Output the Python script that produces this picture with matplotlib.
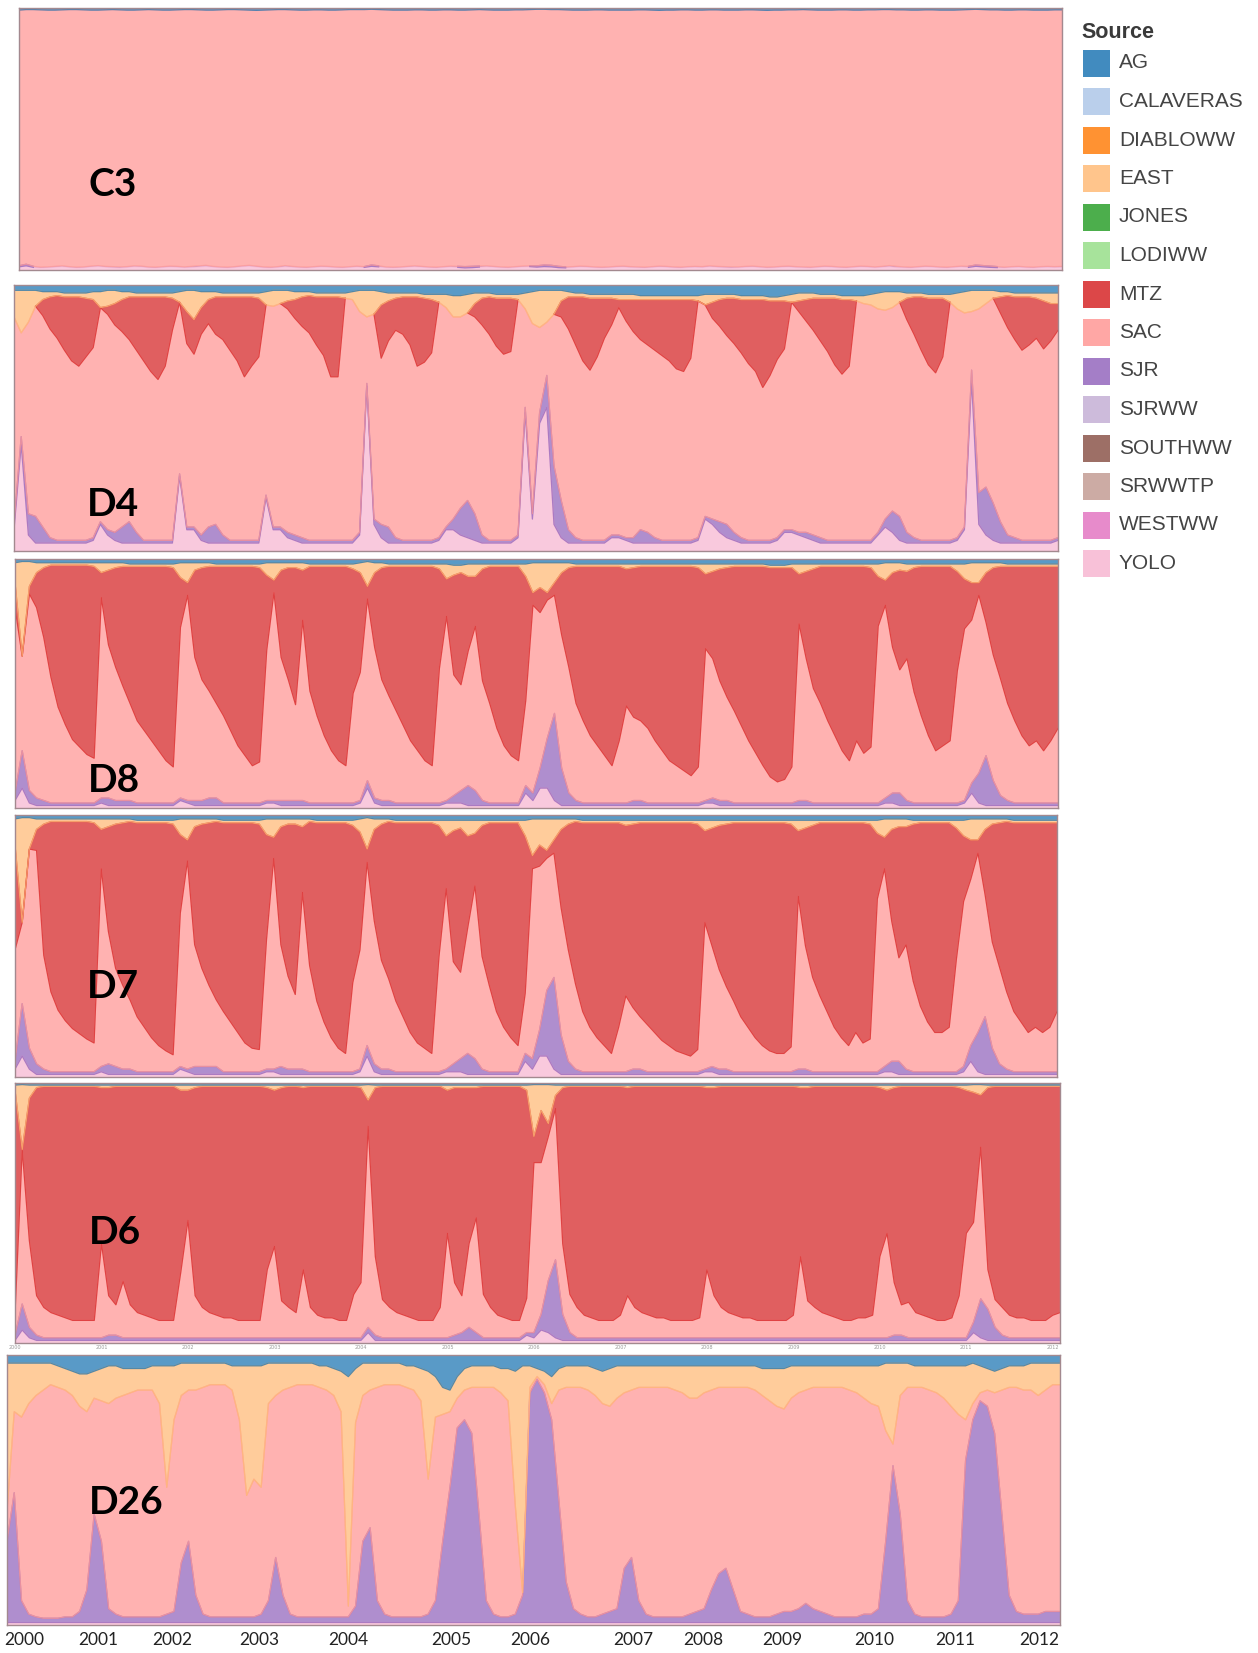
import numpy as np
import pandas as pd
import matplotlib
matplotlib.use("Agg")
import matplotlib.pyplot as plt
from matplotlib.patches import Rectangle

# ---------------------------------------------------------------- sources
SOURCES = ["AG", "CALAVERAS", "DIABLOWW", "EAST", "JONES", "LODIWW", "MTZ",
           "SAC", "SJR", "SJRWW", "SOUTHWW", "SRWWTP", "WESTWW", "YOLO"]
SOURCE_COLORS = ["#1f77b4", "#aec7e8", "#ff7f0e", "#ffbb78", "#2ca02c", "#98df8a",
                 "#d62728", "#ff9896", "#9467bd", "#c5b0d5", "#8c564b", "#c49c94",
                 "#e377c2", "#f7b6d2"]
COLOR = dict(zip(SOURCES, SOURCE_COLORS))

# monthly time axis, Jan 2000 .. Feb 2012
MONTHS = pd.date_range("2000-01-01", "2012-02-01", freq="MS")
T = MONTHS.year + (MONTHS.month - 1) / 12.0

STATIONS = ["C3", "D4", "D8", "D7", "D6", "D26"]
YEAR_LABELS = [str(y) for y in range(2000, 2013)]

# ---------------------------------------------------------------- percent of volume by source (monthly)
C3_AG = [
    [0.8, 0.6, 0.6, 0.7, 0.8, 0.8, 0.7, 0.6, 0.6, 0.7, 0.8, 0.8],
    [0.7, 0.6, 0.7, 0.8, 0.8, 0.7, 0.6, 0.7, 0.8, 0.8, 0.7, 0.6],
    [0.6, 0.7, 0.8, 0.8, 0.7, 0.6, 0.6, 0.7, 0.8, 0.9, 0.8, 0.7],
    [0.6, 0.6, 0.7, 0.8, 0.8, 0.7, 0.7, 0.8, 0.8, 0.7, 0.6, 0.6],
    [0.6, 0.5, 0.6, 0.7, 0.8, 0.8, 0.8, 0.7, 0.7, 0.8, 0.8, 0.7],
    [0.7, 0.8, 0.8, 0.7, 0.6, 0.7, 0.8, 0.8, 0.8, 0.7, 0.7, 0.6],
    [0.5, 0.5, 0.6, 0.6, 0.7, 0.8, 0.8, 0.8, 0.7, 0.7, 0.8, 0.8],
    [0.8, 0.8, 0.7, 0.7, 0.8, 0.9, 0.8, 0.8, 0.7, 0.7, 0.8, 0.8],
    [0.7, 0.7, 0.8, 0.8, 0.8, 0.7, 0.7, 0.8, 0.9, 0.8, 0.8, 0.7],
    [0.7, 0.6, 0.7, 0.8, 0.8, 0.8, 0.7, 0.7, 0.8, 0.8, 0.7, 0.7],
    [0.6, 0.6, 0.7, 0.7, 0.8, 0.8, 0.7, 0.7, 0.8, 0.8, 0.8, 0.7],
    [0.6, 0.5, 0.6, 0.7, 0.7, 0.8, 0.8, 0.7, 0.7, 0.8, 0.8, 0.8],
    [0.7, 0.7],
]
C3_SJR = [
    [0.4, 0.6, 0.4, 0.3, 0.3, 0.3, 0.3, 0.3, 0.3, 0.3, 0.3, 0.3],
    [0.3, 0.4, 0.4, 0.3, 0.3, 0.3, 0.3, 0.3, 0.3, 0.3, 0.3, 0.3],
    [0.4, 0.4, 0.4, 0.3, 0.3, 0.3, 0.3, 0.3, 0.3, 0.3, 0.3, 0.3],
    [0.3, 0.4, 0.3, 0.3, 0.3, 0.3, 0.3, 0.3, 0.3, 0.3, 0.3, 0.3],
    [0.3, 0.5, 0.4, 0.3, 0.3, 0.3, 0.3, 0.3, 0.3, 0.3, 0.3, 0.3],
    [0.3, 0.4, 0.5, 0.5, 0.4, 0.3, 0.3, 0.3, 0.3, 0.3, 0.3, 0.3],
    [0.5, 0.6, 0.6, 0.5, 0.4, 0.3, 0.3, 0.3, 0.3, 0.3, 0.3, 0.3],
    [0.3, 0.3, 0.3, 0.3, 0.3, 0.3, 0.3, 0.3, 0.3, 0.3, 0.3, 0.3],
    [0.3, 0.3, 0.4, 0.4, 0.3, 0.3, 0.3, 0.3, 0.3, 0.3, 0.3, 0.3],
    [0.3, 0.3, 0.3, 0.3, 0.3, 0.3, 0.3, 0.3, 0.3, 0.3, 0.3, 0.3],
    [0.3, 0.4, 0.4, 0.3, 0.3, 0.3, 0.3, 0.3, 0.3, 0.3, 0.3, 0.3],
    [0.4, 0.5, 0.5, 0.5, 0.4, 0.3, 0.3, 0.3, 0.3, 0.3, 0.3, 0.3],
    [0.3, 0.3],
]
C3_YOLO = [
    [1.2, 1.6, 1.0, 0.8, 0.9, 1.1, 1.3, 1.0, 0.8, 0.9, 1.2, 1.4],
    [1.1, 0.9, 0.8, 1.0, 1.3, 1.2, 0.9, 0.8, 1.0, 1.2, 1.1, 0.9],
    [1.0, 1.2, 1.4, 1.1, 0.9, 0.8, 1.0, 1.3, 1.5, 1.2, 0.9, 0.8],
    [1.0, 1.3, 1.1, 0.9, 0.8, 1.0, 1.2, 1.1, 0.9, 0.8, 1.0, 1.2],
    [1.0, 1.4, 1.2, 0.9, 0.8, 0.9, 1.1, 1.3, 1.1, 0.9, 0.8, 1.0],
    [1.2, 1.0, 0.8, 0.9, 1.1, 1.3, 1.1, 0.9, 0.8, 1.0, 1.2, 1.3],
    [1.1, 1.3, 1.2, 0.9, 0.8, 1.0, 1.2, 1.1, 0.9, 0.8, 0.9, 1.1],
    [1.2, 1.0, 0.9, 0.8, 1.0, 1.2, 1.1, 0.9, 0.8, 1.0, 1.1, 1.0],
    [1.3, 1.1, 0.9, 0.8, 0.9, 1.1, 1.2, 1.0, 0.8, 0.9, 1.1, 1.2],
    [1.0, 0.9, 0.8, 1.0, 1.2, 1.1, 0.9, 0.8, 1.0, 1.2, 1.1, 0.9],
    [1.1, 1.3, 1.0, 0.9, 0.8, 1.0, 1.2, 1.1, 0.9, 0.8, 1.0, 1.2],
    [1.0, 1.4, 1.2, 1.0, 0.9, 0.8, 1.0, 1.1, 0.9, 0.8, 1.0, 1.1],
    [1.0, 1.1],
]

D4_AG = [
    [2, 2, 2, 2, 2.5, 2.5, 2.5, 3, 3, 3, 3, 2.5],
    [2.5, 2, 2, 2.5, 2.5, 3, 3, 3, 3, 3, 3, 2.5],
    [2, 2, 2.5, 2.5, 2.5, 3, 3, 3, 3, 3, 3, 2.5],
    [2, 2, 2, 2.5, 2.5, 2.5, 3, 3, 3, 3, 3, 2.5],
    [2, 2, 2, 2.5, 3, 3, 3, 3, 3, 3.5, 3.5, 3.5],
    [3.5, 4, 4, 3.5, 3, 3, 3, 3.5, 3.5, 3.5, 3.5, 3],
    [2.5, 2, 2, 2, 2, 2.5, 3, 3, 3.5, 3.5, 3.5, 3.5],
    [3.5, 3.5, 3.5, 4, 4, 4, 4, 4, 4, 4, 4, 4],
    [3.5, 3.5, 3.5, 3.5, 3.5, 4, 4, 4, 4, 4.5, 4.5, 4],
    [3.5, 3, 3, 3, 3.5, 3.5, 3.5, 4, 4, 4, 4, 3.5],
    [3, 2.5, 2.5, 2.5, 3, 3, 3, 3.5, 3.5, 3.5, 3.5, 3],
    [2.5, 2, 2, 2, 2, 2.5, 2.5, 3, 3, 3, 3, 3],
    [3, 3],
]
D4_EAST = [
    [10, 16, 12, 6, 3, 2, 1.5, 1.5, 1.5, 1.5, 2, 3],
    [6, 6, 5, 3, 2, 1.5, 1.5, 1.5, 1.5, 1.5, 2, 4],
    [8, 11, 6, 3, 2, 1.5, 1.5, 1.5, 1.5, 1.5, 2, 5],
    [6, 5, 4, 3, 2, 1.5, 1.5, 1.5, 1.5, 1.5, 2, 3],
    [8, 10, 9, 5, 3, 2, 1.5, 1.5, 1.5, 1.5, 2, 3],
    [5, 8, 8, 7, 4, 2, 1.5, 1.5, 1.5, 1.5, 2, 6],
    [12, 14, 12, 9, 4, 2, 1.5, 1.5, 1.5, 1.5, 1.5, 1.5],
    [2, 2, 2, 1.5, 1.5, 1.5, 1.5, 1.5, 1.5, 1.5, 1.5, 2],
    [4, 3, 2, 1.5, 1.5, 1.5, 1.5, 1.5, 1.5, 1.5, 1.5, 2],
    [3, 3, 2.5, 2, 1.5, 1.5, 1.5, 1.5, 1.5, 2, 3, 4],
    [6, 7, 6, 4, 2, 1.5, 1.5, 1.5, 1.5, 1.5, 3, 6],
    [8, 8, 7, 5, 3, 2, 1.5, 1.5, 1.5, 1.5, 2, 3],
    [4, 4],
]
D4_MTZ = [
    [0, 0, 0, 0, 6, 12, 16, 20, 24, 26, 22, 18],
    [0, 3, 8, 12, 16, 20, 24, 28, 31, 26, 12, 0],
    [12, 13, 10, 9, 14, 16, 20, 24, 30, 26, 22, 0],
    [0, 0, 3, 7, 11, 14, 18, 22, 30, 30, 0, 0],
    [0, 0, 0, 20, 15, 12, 14, 18, 26, 24, 20, 0],
    [0, 0, 0, 0, 5, 10, 14, 18, 21, 20, 0, 0],
    [0, 0, 0, 0, 6, 12, 18, 24, 27, 22, 15, 10],
    [3, 8, 12, 15, 17, 19, 21, 23, 26, 27, 22, 0],
    [0, 6, 10, 14, 17, 20, 24, 27, 33, 28, 22, 18],
    [0, 4, 8, 12, 16, 20, 25, 28, 25, 0, 0, 0],
    [0, 0, 0, 0, 8, 14, 20, 25, 28, 22, 0, 0],
    [0, 0, 0, 0, 0, 6, 12, 16, 20, 18, 15, 18],
    [14, 10],
]
D4_SJR = [
    [2, 3, 8, 10, 6, 2, 1, 1, 1, 1, 1, 1],
    [1, 2, 3, 6, 8, 4, 1, 1, 1, 1, 1, 1],
    [1, 1, 2, 6, 7, 3, 1, 1, 1, 1, 1, 1],
    [1, 1, 2, 2, 2, 1, 1, 1, 1, 1, 1, 1],
    [1, 1, 2, 5, 6, 2, 1, 1, 1, 1, 1, 1],
    [1, 4, 10, 14, 10, 3, 1, 1, 1, 1, 1, 2],
    [2, 4, 12, 22, 14, 5, 2, 1, 1, 1, 1, 1],
    [1, 1, 2, 5, 4, 2, 1, 1, 1, 1, 1, 1],
    [1, 2, 4, 5, 3, 2, 1, 1, 1, 1, 1, 1],
    [1, 1, 2, 2, 2, 1, 1, 1, 1, 1, 1, 1],
    [1, 3, 8, 9, 4, 2, 1, 1, 1, 1, 1, 1],
    [1, 4, 12, 18, 14, 8, 3, 2, 1, 1, 1, 1],
    [1, 1],
]
D4_YOLO = [
    [8, 40, 6, 3, 3, 3, 3, 3, 3, 3, 3, 4],
    [10, 6, 4, 3, 3, 3, 3, 3, 3, 3, 3, 28],
    [8, 8, 4, 3, 3, 3, 3, 3, 3, 3, 3, 20],
    [8, 8, 5, 4, 3, 3, 3, 3, 3, 3, 3, 3],
    [6, 62, 10, 5, 3, 3, 3, 3, 3, 3, 3, 4],
    [8, 8, 6, 5, 4, 3, 3, 3, 3, 3, 5, 52],
    [12, 48, 54, 10, 5, 3, 3, 3, 3, 3, 3, 5],
    [5, 4, 3, 3, 3, 3, 3, 3, 3, 3, 3, 4],
    [12, 10, 7, 5, 4, 3, 3, 3, 3, 3, 4, 7],
    [7, 6, 5, 4, 3, 3, 3, 3, 3, 3, 3, 3],
    [6, 9, 7, 4, 3, 3, 3, 3, 3, 3, 3, 4],
    [8, 64, 10, 6, 4, 3, 3, 3, 3, 3, 3, 3],
    [3, 4],
]

D8_AG = [
    [1.5, 1, 1, 1.5, 1.5, 1.5, 1.5, 1.5, 1.5, 1.5, 1.5, 1.5],
    [1.5, 1.5, 1.5, 1.5, 2, 2, 2, 2, 2, 2, 2, 1.5],
    [1.5, 1.5, 1.5, 1.5, 2, 2, 2, 2, 2, 2, 2, 1.5],
    [1.5, 1.5, 1.5, 1.5, 1.5, 2, 2, 2, 2, 2, 2, 2],
    [1.5, 1, 1.5, 1.5, 2, 2, 2, 2, 2, 2, 2, 2],
    [2, 2.5, 2.5, 2, 2, 2, 2, 2, 2, 2, 2, 2],
    [1.5, 1.5, 1.5, 1.5, 1.5, 1.5, 2, 2, 2, 2, 2, 2],
    [2, 2, 2, 2, 2, 2, 2, 2, 2, 2, 2, 2],
    [2, 2, 2, 2, 2, 2, 2, 2, 2, 2.5, 2.5, 2.5],
    [2, 2, 2, 2, 2, 2, 2, 2, 2, 2, 2, 2],
    [2, 1.5, 1.5, 1.5, 2, 2, 2, 2, 2, 2, 2, 2],
    [2, 1.5, 1.5, 1.5, 1.5, 1.5, 2, 2, 2, 2, 2, 2],
    [2, 2],
]
D8_EAST = [
    [8, 38, 10, 4, 2, 1, 1, 1, 1, 1, 1, 1.5],
    [4, 3, 2, 1.5, 1, 1, 1, 1, 1, 1, 1.5, 6],
    [8, 3, 2, 1.5, 1, 1, 1, 1, 1, 1, 1.5, 5],
    [7, 3, 2, 2, 3, 1, 1, 1, 1, 1, 1, 2],
    [4, 10, 4, 2, 1, 1, 1, 1, 1, 1, 1, 2],
    [6, 4, 3, 5, 5, 2, 1, 1, 1, 1, 1, 5],
    [12, 10, 12, 8, 4, 2, 1, 1, 1, 1, 1, 1],
    [1, 2, 1.5, 1, 1, 1, 1, 1, 1, 1, 1, 1.5],
    [4, 3, 2, 1.5, 1, 1, 1, 1, 1, 1, 1, 1],
    [1.5, 4, 3, 2, 1, 1, 1, 1, 1, 1, 1, 1.5],
    [5, 7, 4, 3, 3, 1.5, 1, 1, 1, 1, 1, 3],
    [6, 8, 8, 4, 2, 1.5, 1, 1, 1, 1, 1, 1],
    [1, 1],
]
D8_MTZ = [
    [10, 0, 3, 14, 28, 45, 57, 64, 70, 73, 76, 77],
    [10, 30, 40, 48, 55, 62, 66, 70, 74, 78, 80, 20],
    [5, 35, 45, 50, 55, 60, 66, 72, 76, 80, 78, 30],
    [5, 35, 45, 55, 20, 50, 60, 68, 74, 78, 80, 50],
    [40, 5, 30, 45, 52, 58, 64, 70, 74, 78, 80, 40],
    [15, 40, 45, 30, 20, 45, 55, 65, 72, 76, 78, 50],
    [5, 10, 3, 5, 25, 40, 55, 62, 68, 72, 76, 80],
    [70, 55, 60, 62, 65, 70, 74, 78, 80, 82, 84, 80],
    [30, 35, 45, 52, 58, 64, 70, 75, 80, 84, 86, 85],
    [80, 20, 35, 48, 55, 62, 68, 74, 78, 70, 75, 72],
    [20, 10, 30, 40, 35, 50, 60, 68, 74, 72, 70, 40],
    [20, 15, 5, 20, 35, 45, 55, 62, 68, 72, 70, 74],
    [70, 65],
]
D8_SJR = [
    [3, 15, 5, 3, 2, 1, 1, 1, 1, 1, 1, 1],
    [2, 3, 2, 2, 2, 1, 1, 1, 1, 1, 1, 1],
    [1, 2, 2, 3, 3, 1, 1, 1, 1, 1, 1, 1],
    [1, 2, 2, 2, 2, 1, 1, 1, 1, 1, 1, 1],
    [1, 3, 2, 2, 2, 1, 1, 1, 1, 1, 1, 1],
    [1, 3, 5, 8, 6, 2, 1, 1, 1, 1, 1, 3],
    [3, 8, 20, 35, 15, 5, 2, 1, 1, 1, 1, 1],
    [1, 1, 2, 2, 1, 1, 1, 1, 1, 1, 1, 1],
    [1, 2, 2, 2, 1, 1, 1, 1, 1, 1, 1, 1],
    [1, 2, 2, 1, 1, 1, 1, 1, 1, 1, 1, 1],
    [1, 2, 4, 5, 2, 1, 1, 1, 1, 1, 1, 1],
    [1, 4, 12, 20, 10, 4, 2, 1, 1, 1, 1, 1],
    [1, 1],
]
D8_YOLO = [
    [3, 8, 2, 1, 1, 1, 1, 1, 1, 1, 1, 1],
    [2, 1, 1, 1, 1, 1, 1, 1, 1, 1, 1, 3],
    [2, 1, 1, 1, 1, 1, 1, 1, 1, 1, 1, 2],
    [2, 1, 1, 1, 1, 1, 1, 1, 1, 1, 1, 1],
    [2, 8, 2, 1, 1, 1, 1, 1, 1, 1, 1, 1],
    [2, 2, 2, 1, 1, 1, 1, 1, 1, 1, 1, 6],
    [3, 8, 8, 3, 1, 1, 1, 1, 1, 1, 1, 1],
    [1, 1, 1, 1, 1, 1, 1, 1, 1, 1, 1, 1],
    [2, 2, 1, 1, 1, 1, 1, 1, 1, 1, 1, 1],
    [1, 1, 1, 1, 1, 1, 1, 1, 1, 1, 1, 1],
    [1, 2, 2, 1, 1, 1, 1, 1, 1, 1, 1, 1],
    [2, 6, 2, 1, 1, 1, 1, 1, 1, 1, 1, 1],
    [1, 1],
]

D7_AG = [
    [1.5, 1, 1, 1.5, 1.5, 1.5, 1.5, 1.5, 1.5, 1.5, 1.5, 1.5],
    [1.5, 1.5, 1.5, 1.5, 1.5, 2, 2, 2, 2, 2, 2, 1.5],
    [1.5, 1.5, 1.5, 1.5, 1.5, 2, 2, 2, 2, 2, 2, 1.5],
    [1.5, 1.5, 1.5, 1.5, 1.5, 1.5, 2, 2, 2, 2, 2, 2],
    [1.5, 1, 1.5, 1.5, 1.5, 2, 2, 2, 2, 2, 2, 2],
    [2, 2, 2, 2, 2, 2, 2, 2, 2, 2, 2, 2],
    [1.5, 1.5, 1.5, 1.5, 1.5, 1.5, 1.5, 2, 2, 2, 2, 2],
    [2, 2, 2, 2, 2, 2, 2, 2, 2, 2, 2, 2],
    [2, 2, 2, 2, 2, 2, 2, 2, 2, 2, 2, 2],
    [2, 2, 2, 2, 2, 2, 2, 2, 2, 2, 2, 2],
    [2, 1.5, 1.5, 1.5, 1.5, 2, 2, 2, 2, 2, 2, 2],
    [2, 1.5, 1.5, 1.5, 1.5, 1.5, 1.5, 2, 2, 2, 2, 2],
    [2, 2],
]
D7_EAST = [
    [10, 40, 12, 4, 2, 1, 1, 1, 1, 1, 1, 1.5],
    [4, 3, 2, 1.5, 1, 1, 1, 1, 1, 1, 1.5, 6],
    [8, 3, 2, 1.5, 1, 1, 1, 1, 1, 1, 1.5, 6],
    [7, 3, 2, 2, 3, 1, 1, 1, 1, 1, 1, 2],
    [5, 12, 4, 2, 1, 1, 1, 1, 1, 1, 1, 2],
    [6, 4, 3, 6, 5, 2, 1, 1, 1, 1, 1, 6],
    [14, 10, 12, 8, 4, 2, 1, 1, 1, 1, 1, 1],
    [1, 2, 1.5, 1, 1, 1, 1, 1, 1, 1, 1, 1.5],
    [4, 3, 2, 1.5, 1, 1, 1, 1, 1, 1, 1, 1],
    [1.5, 4, 3, 2, 1, 1, 1, 1, 1, 1, 1, 1.5],
    [5, 7, 4, 3, 3, 1.5, 1, 1, 1, 1, 1, 3],
    [6, 8, 8, 4, 2, 1.5, 1, 1, 1, 1, 1, 1],
    [1, 1],
]
D7_MTZ = [
    [40, 0, 0, 8, 50, 65, 72, 76, 79, 81, 83, 84],
    [15, 40, 55, 62, 68, 74, 78, 82, 85, 87, 88, 30],
    [8, 45, 55, 62, 68, 72, 76, 80, 84, 86, 86, 40],
    [8, 45, 58, 65, 25, 55, 68, 76, 82, 86, 88, 60],
    [45, 5, 35, 52, 60, 68, 74, 80, 84, 86, 88, 50],
    [20, 50, 55, 35, 20, 50, 62, 72, 78, 82, 85, 60],
    [5, 8, 3, 5, 30, 48, 62, 72, 78, 82, 85, 88],
    [78, 65, 70, 74, 77, 80, 83, 85, 87, 88, 89, 86],
    [35, 45, 55, 62, 68, 74, 78, 82, 85, 87, 88, 88],
    [85, 25, 45, 58, 66, 72, 78, 82, 85, 80, 84, 82],
    [25, 12, 35, 50, 45, 60, 70, 76, 80, 80, 78, 50],
    [25, 15, 5, 25, 45, 55, 65, 72, 76, 80, 78, 80],
    [78, 72],
]
D7_SJR = [
    [3, 20, 8, 4, 2, 1, 1, 1, 1, 1, 1, 1],
    [2, 4, 3, 2, 2, 1, 1, 1, 1, 1, 1, 1],
    [1, 3, 3, 3, 3, 1, 1, 1, 1, 1, 1, 1],
    [1, 3, 2, 2, 2, 1, 1, 1, 1, 1, 1, 1],
    [1, 4, 3, 2, 2, 1, 1, 1, 1, 1, 1, 1],
    [1, 3, 5, 8, 6, 2, 1, 1, 1, 1, 1, 3],
    [4, 10, 25, 35, 15, 5, 2, 1, 1, 1, 1, 1],
    [1, 1, 2, 2, 1, 1, 1, 1, 1, 1, 1, 1],
    [1, 2, 2, 2, 1, 1, 1, 1, 1, 1, 1, 1],
    [1, 2, 2, 1, 1, 1, 1, 1, 1, 1, 1, 1],
    [1, 2, 4, 5, 2, 1, 1, 1, 1, 1, 1, 1],
    [2, 6, 15, 22, 10, 4, 2, 1, 1, 1, 1, 1],
    [1, 1],
]
D7_YOLO = [
    [3, 8, 3, 1, 1, 1, 1, 1, 1, 1, 1, 1],
    [2, 1, 1, 1, 1, 1, 1, 1, 1, 1, 1, 3],
    [2, 1, 1, 1, 1, 1, 1, 1, 1, 1, 1, 2],
    [2, 1, 1, 1, 1, 1, 1, 1, 1, 1, 1, 1],
    [2, 8, 2, 1, 1, 1, 1, 1, 1, 1, 1, 1],
    [2, 2, 2, 1, 1, 1, 1, 1, 1, 1, 1, 6],
    [3, 8, 8, 3, 1, 1, 1, 1, 1, 1, 1, 1],
    [1, 1, 1, 1, 1, 1, 1, 1, 1, 1, 1, 1],
    [2, 2, 1, 1, 1, 1, 1, 1, 1, 1, 1, 1],
    [1, 1, 1, 1, 1, 1, 1, 1, 1, 1, 1, 1],
    [1, 2, 2, 1, 1, 1, 1, 1, 1, 1, 1, 1],
    [2, 6, 2, 1, 1, 1, 1, 1, 1, 1, 1, 1],
    [1, 1],
]

D6_AG = [
    [0.8, 0.6, 0.8, 0.8, 0.8, 0.8, 0.8, 0.8, 0.8, 0.8, 0.8, 0.8],
    [0.8, 0.8, 0.8, 0.8, 0.8, 0.8, 0.8, 0.8, 0.8, 0.8, 0.8, 0.8],
    [0.8, 0.8, 0.8, 0.8, 0.8, 0.8, 0.8, 0.8, 0.8, 0.8, 0.8, 0.8],
    [0.8, 0.8, 0.8, 0.8, 0.8, 0.8, 0.8, 0.8, 0.8, 0.8, 0.8, 0.8],
    [0.8, 0.6, 0.8, 0.8, 0.8, 0.8, 0.8, 0.8, 0.8, 0.8, 0.8, 0.8],
    [0.8, 0.8, 0.8, 0.8, 0.8, 0.8, 0.8, 0.8, 0.8, 0.8, 0.8, 0.8],
    [0.6, 0.6, 0.6, 0.8, 0.8, 0.8, 0.8, 0.8, 0.8, 0.8, 0.8, 0.8],
    [0.8, 0.8, 0.8, 0.8, 0.8, 0.8, 0.8, 0.8, 0.8, 0.8, 0.8, 0.8],
    [0.8, 0.8, 0.8, 0.8, 0.8, 0.8, 0.8, 0.8, 0.8, 0.8, 0.8, 0.8],
    [0.8, 0.8, 0.8, 0.8, 0.8, 0.8, 0.8, 0.8, 0.8, 0.8, 0.8, 0.8],
    [0.8, 0.8, 0.8, 0.8, 0.8, 0.8, 0.8, 0.8, 0.8, 0.8, 0.8, 0.8],
    [0.8, 0.6, 0.6, 0.8, 0.8, 0.8, 0.8, 0.8, 0.8, 0.8, 0.8, 0.8],
    [0.8, 0.8],
]
D6_EAST = [
    [2, 25, 5, 1, 0.5, 0.5, 0.5, 0.5, 0.5, 0.5, 0.5, 0.5],
    [1, 1, 0.5, 0.5, 0.5, 0.5, 0.5, 0.5, 0.5, 0.5, 0.5, 2],
    [2, 1, 0.5, 0.5, 0.5, 0.5, 0.5, 0.5, 0.5, 0.5, 0.5, 1],
    [2, 1, 0.5, 0.5, 1, 0.5, 0.5, 0.5, 0.5, 0.5, 0.5, 0.5],
    [1, 6, 1, 0.5, 0.5, 0.5, 0.5, 0.5, 0.5, 0.5, 0.5, 0.5],
    [2, 1, 1, 1, 1, 0.5, 0.5, 0.5, 0.5, 0.5, 0.5, 2],
    [20, 10, 15, 4, 1, 0.5, 0.5, 0.5, 0.5, 0.5, 0.5, 0.5],
    [0.5, 1, 0.5, 0.5, 0.5, 0.5, 0.5, 0.5, 0.5, 0.5, 0.5, 0.5],
    [1, 1, 0.5, 0.5, 0.5, 0.5, 0.5, 0.5, 0.5, 0.5, 0.5, 0.5],
    [0.5, 1, 1, 0.5, 0.5, 0.5, 0.5, 0.5, 0.5, 0.5, 0.5, 0.5],
    [1, 2, 1, 0.5, 0.5, 0.5, 0.5, 0.5, 0.5, 0.5, 0.5, 1],
    [2, 3, 4, 1, 0.5, 0.5, 0.5, 0.5, 0.5, 0.5, 0.5, 0.5],
    [0.5, 0.5],
]
D6_MTZ = [
    [86, 0, 55, 80, 85, 87, 88, 89, 90, 90, 90, 90],
    [60, 80, 84, 75, 84, 87, 88, 89, 90, 90, 90, 70],
    [50, 80, 85, 87, 88, 89, 89, 90, 90, 90, 90, 70],
    [60, 82, 85, 87, 70, 85, 88, 89, 89, 90, 90, 80],
    [75, 10, 65, 82, 85, 87, 88, 89, 90, 90, 90, 85],
    [55, 75, 80, 60, 50, 80, 85, 88, 89, 90, 90, 80],
    [10, 20, 5, 5, 60, 80, 85, 88, 89, 90, 90, 90],
    [88, 80, 85, 87, 88, 89, 89, 90, 90, 90, 90, 89],
    [70, 80, 85, 87, 88, 89, 89, 90, 90, 90, 90, 90],
    [88, 65, 82, 85, 87, 88, 89, 90, 90, 89, 89, 88],
    [65, 55, 75, 84, 83, 87, 88, 89, 90, 90, 89, 80],
    [55, 50, 20, 70, 82, 85, 88, 89, 89, 90, 90, 90],
    [88, 87],
]
D6_SJR = [
    [2, 10, 4, 2, 1, 1, 1, 1, 1, 1, 1, 1],
    [1, 2, 2, 1, 1, 1, 1, 1, 1, 1, 1, 1],
    [1, 1, 1, 1, 1, 1, 1, 1, 1, 1, 1, 1],
    [1, 1, 1, 1, 1, 1, 1, 1, 1, 1, 1, 1],
    [1, 2, 2, 1, 1, 1, 1, 1, 1, 1, 1, 1],
    [1, 2, 3, 5, 3, 1, 1, 1, 1, 1, 1, 1],
    [2, 6, 20, 30, 10, 3, 1, 1, 1, 1, 1, 1],
    [1, 1, 1, 1, 1, 1, 1, 1, 1, 1, 1, 1],
    [1, 1, 1, 1, 1, 1, 1, 1, 1, 1, 1, 1],
    [1, 1, 1, 1, 1, 1, 1, 1, 1, 1, 1, 1],
    [1, 1, 2, 2, 1, 1, 1, 1, 1, 1, 1, 1],
    [1, 4, 15, 12, 5, 2, 1, 1, 1, 1, 1, 1],
    [1, 1],
]
D6_YOLO = [
    [1, 5, 2, 1, 1, 1, 1, 1, 1, 1, 1, 1],
    [1, 1, 1, 1, 1, 1, 1, 1, 1, 1, 1, 1],
    [1, 1, 1, 1, 1, 1, 1, 1, 1, 1, 1, 1],
    [1, 1, 1, 1, 1, 1, 1, 1, 1, 1, 1, 1],
    [1, 4, 1, 1, 1, 1, 1, 1, 1, 1, 1, 1],
    [1, 1, 1, 1, 1, 1, 1, 1, 1, 1, 1, 3],
    [2, 5, 4, 2, 1, 1, 1, 1, 1, 1, 1, 1],
    [1, 1, 1, 1, 1, 1, 1, 1, 1, 1, 1, 1],
    [1, 1, 1, 1, 1, 1, 1, 1, 1, 1, 1, 1],
    [1, 1, 1, 1, 1, 1, 1, 1, 1, 1, 1, 1],
    [1, 1, 1, 1, 1, 1, 1, 1, 1, 1, 1, 1],
    [1, 4, 2, 1, 1, 1, 1, 1, 1, 1, 1, 1],
    [1, 1],
]

D26_AG = [
    [3, 3, 3, 3, 3, 3, 3, 4, 5, 6, 7, 7],
    [6, 5, 4, 4, 5, 5, 5, 5, 4, 4, 4, 4],
    [3, 3, 3, 3, 3, 3, 3, 4, 4, 4, 4, 4],
    [3, 3, 3, 3, 3, 3, 3, 4, 4, 5, 6, 8],
    [5, 3, 3, 3, 3, 3, 3, 4, 4, 5, 6, 8],
    [12, 13, 8, 5, 4, 4, 4, 4, 5, 5, 6, 4],
    [4, 5, 6, 8, 5, 4, 4, 4, 4, 5, 6, 5],
    [4, 4, 4, 4, 4, 4, 4, 4, 4, 4, 4, 4],
    [4, 4, 4, 4, 4, 4, 4, 4, 5, 5, 5, 5],
    [4, 4, 4, 4, 4, 4, 4, 4, 4, 4, 4, 4],
    [4, 3, 3, 3, 3, 4, 4, 4, 4, 4, 4, 4],
    [4, 3, 4, 5, 6, 5, 4, 4, 4, 3, 3, 3],
    [3, 3],
]
D26_EAST = [
    [55, 18, 20, 15, 12, 10, 8, 8, 8, 9, 12, 14],
    [10, 12, 14, 12, 10, 9, 8, 8, 9, 14, 45, 20],
    [12, 10, 10, 9, 8, 8, 8, 9, 20, 48, 42, 45],
    [15, 12, 10, 9, 8, 8, 8, 8, 9, 10, 15, 85],
    [20, 12, 10, 9, 8, 8, 8, 8, 9, 12, 40, 15],
    [10, 8, 8, 8, 8, 8, 8, 8, 9, 12, 50, 84],
    [8, 3, 5, 10, 8, 8, 8, 8, 9, 10, 12, 14],
    [12, 10, 9, 8, 8, 8, 8, 8, 9, 10, 12, 12],
    [10, 9, 8, 8, 8, 8, 8, 9, 10, 12, 14, 15],
    [12, 10, 9, 8, 8, 8, 8, 8, 9, 10, 12, 14],
    [15, 25, 30, 12, 9, 8, 8, 9, 10, 12, 15, 18],
    [20, 15, 10, 8, 8, 8, 8, 8, 9, 10, 12, 10],
    [8, 8],
]
D26_SJR = [
    [30, 48, 8, 3, 2, 1.5, 1.5, 1.5, 2, 2, 4, 12],
    [40, 30, 5, 3, 2, 2, 2, 2, 2, 2, 3, 4],
    [22, 30, 10, 3, 2, 2, 2, 2, 2, 2, 2, 3],
    [8, 24, 10, 3, 2, 2, 2, 2, 2, 2, 2, 2],
    [6, 30, 35, 8, 3, 2, 2, 2, 2, 2, 3, 8],
    [30, 50, 72, 75, 70, 40, 8, 3, 2, 2, 3, 10],
    [85, 90, 85, 75, 45, 15, 5, 3, 2, 2, 3, 4],
    [5, 20, 24, 8, 3, 2, 2, 2, 2, 2, 3, 4],
    [5, 12, 18, 20, 12, 4, 3, 2, 2, 2, 3, 4],
    [4, 5, 7, 5, 4, 3, 2, 2, 2, 2, 3, 3],
    [5, 30, 58, 40, 8, 3, 2, 2, 2, 2, 3, 8],
    [60, 75, 82, 80, 70, 40, 10, 4, 3, 3, 3, 4],
    [4, 4],
]
D26_YOLO = [
    [1, 1, 1, 1, 1, 1, 1, 1, 1, 1, 1, 1],
    [1, 1, 1, 1, 1, 1, 1, 1, 1, 1, 1, 1],
    [1, 1, 1, 1, 1, 1, 1, 1, 1, 1, 1, 1],
    [1, 1, 1, 1, 1, 1, 1, 1, 1, 1, 1, 1],
    [1, 1, 1, 1, 1, 1, 1, 1, 1, 1, 1, 1],
    [1, 1, 1, 1, 1, 1, 1, 1, 1, 1, 1, 1],
    [1, 1, 1, 1, 1, 1, 1, 1, 1, 1, 1, 1],
    [1, 1, 1, 1, 1, 1, 1, 1, 1, 1, 1, 1],
    [1, 1, 1, 1, 1, 1, 1, 1, 1, 1, 1, 1],
    [1, 1, 1, 1, 1, 1, 1, 1, 1, 1, 1, 1],
    [1, 1, 1, 1, 1, 1, 1, 1, 1, 1, 1, 1],
    [1, 1, 1, 1, 1, 1, 1, 1, 1, 1, 1, 1],
    [1, 1],
]


def monthly(rows):
    vals = np.array([v for r in rows for v in r], dtype=float)
    if len(vals) != len(T):
        raise ValueError(f"expected {len(T)} monthly values, got {len(vals)}")
    return vals


PANEL_DATA = {
    "C3": {"AG": C3_AG, "SJR": C3_SJR, "YOLO": C3_YOLO},
    "D4": {"AG": D4_AG, "EAST": D4_EAST, "MTZ": D4_MTZ, "SJR": D4_SJR, "YOLO": D4_YOLO},
    "D8": {"AG": D8_AG, "EAST": D8_EAST, "MTZ": D8_MTZ, "SJR": D8_SJR, "YOLO": D8_YOLO},
    "D7": {"AG": D7_AG, "EAST": D7_EAST, "MTZ": D7_MTZ, "SJR": D7_SJR, "YOLO": D7_YOLO},
    "D6": {"AG": D6_AG, "EAST": D6_EAST, "MTZ": D6_MTZ, "SJR": D6_SJR, "YOLO": D6_YOLO},
    "D26": {"AG": D26_AG, "EAST": D26_EAST, "SJR": D26_SJR, "YOLO": D26_YOLO},
}

# stacking order, bottom to top
STACK = ["YOLO", "SJR", "SAC", "MTZ", "EAST", "AG"]

# ---------------------------------------------------------------- layout (pixels)
W, H = 1258, 1653
PANEL_BOX = {  # left, top, right, bottom
    "C3": (19, 8, 1062, 270),
    "D4": (14, 285, 1058, 551),
    "D8": (15, 559, 1058, 808),
    "D7": (15, 815, 1057, 1077),
    "D6": (15, 1083, 1060, 1343),
    "D26": (7, 1355, 1060, 1625),
}
LABEL_POS = {"C3": (89, 185), "D4": (87, 504), "D8": (88, 780),
             "D7": (87, 987), "D6": (89, 1233), "D26": (89, 1502)}
YEAR_LABEL_X = [24, 98, 172, 259, 348, 451, 530, 633, 703, 782, 874, 955, 1039]
YEAR_LABEL_Y = 1640

FILL_ALPHA = 0.74

fig = plt.figure(figsize=(W / 100, H / 100), dpi=100)
fig.patch.set_facecolor("white")


def px_axes(box):
    l, t_, r, b = box
    return fig.add_axes([l / W, 1 - b / H, (r - l) / W, (b - t_) / H])


for name in STATIONS:
    ax = px_axes(PANEL_BOX[name])
    series = {k: monthly(v) for k, v in PANEL_DATA[name].items()}
    others = sum(series.values())
    series["SAC"] = 100.0 - others
    layers = [(s, series[s]) for s in STACK if s in series]

    base = np.zeros_like(T, dtype=float)
    bounds = []
    for s, v in layers:
        top = base + v
        ax.fill_between(T, base, top, facecolor=COLOR[s], alpha=FILL_ALPHA,
                        linewidth=0, zorder=1)
        bounds.append((s, v, base.copy(), top.copy()))
        base = top
    # outline each band where it has some thickness
    for s, v, lo, hi in bounds:
        live = (v > 0.4) | (np.roll(v, 1) > 0.4) | (np.roll(v, -1) > 0.4)
        if s != "YOLO":
            ax.plot(T, np.where(live, lo, np.nan), color=COLOR[s], lw=0.9,
                    alpha=0.75, zorder=2)
        if s != "AG":
            ax.plot(T, np.where(live, hi, np.nan), color=COLOR[s], lw=0.9,
                    alpha=0.75, zorder=2)

    ax.set_xlim(T[0], T[-1])
    ax.set_ylim(0, 100)
    ax.set_yticks([])
    for sp in ax.spines.values():
        sp.set_color("#a3898f")
        sp.set_linewidth(1.0)

    if name == "D6":
        ax.set_xticks(np.arange(2000, 2013))
        ax.set_xticklabels(YEAR_LABELS, fontsize=3.5, color="#9a9a9a")
        ax.tick_params(axis="x", length=0, pad=1.5)
    else:
        ax.set_xticks([])

    lx, ly = LABEL_POS[name]
    fig.text(lx / W, 1 - ly / H, name, fontsize=28, fontweight="bold",
             family=["Lato", "DejaVu Sans"], color="black", ha="left", va="center")

# year labels under the bottom panel
for lab, x in zip(YEAR_LABELS, YEAR_LABEL_X):
    fig.text(x / W, 1 - YEAR_LABEL_Y / H, lab, fontsize=12.5,
             family=["Lato", "DejaVu Sans"], color="#222222", ha="center", va="center")

# legend
LEG_X, LEG_Y0, LEG_DY, SW = 1083, 63, 38.5, 27
fig.text(1081 / W, 1 - 33 / H, "Source", fontsize=15.5, fontweight="bold",
         family=["Liberation Sans", "DejaVu Sans"], color="#3a3a3a",
         ha="left", va="center")
for i, s in enumerate(SOURCES):
    yc = LEG_Y0 + i * LEG_DY
    fig.patches.append(Rectangle((LEG_X / W, 1 - (yc + SW / 2) / H), SW / W, SW / H,
                                 transform=fig.transFigure, facecolor=COLOR[s],
                                 alpha=0.85, edgecolor="none"))
    fig.text(1119 / W, 1 - yc / H, s, fontsize=15,
             family=["Liberation Sans", "DejaVu Sans"], color="#444444",
             ha="left", va="center")

fig.savefig("out.png", dpi=100, facecolor="white")
